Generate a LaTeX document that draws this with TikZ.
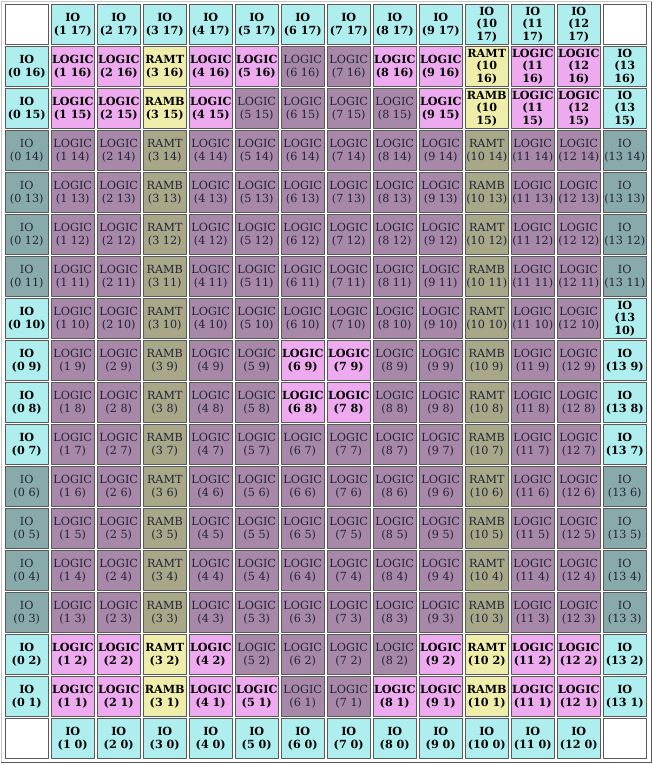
\documentclass[tikz,border=0pt]{standalone}
\usepackage{fontspec}
\setmainfont{DejaVu Serif}
\usepackage{xcolor}
\usepackage{tikz}

\definecolor{ioon}{HTML}{AFEEEE}
\definecolor{iooff}{HTML}{88AAAA}
\definecolor{logicon}{HTML}{EEAAEE}
\definecolor{logicoff}{HTML}{A888A8}
\definecolor{ramon}{HTML}{EEEEAA}
\definecolor{ramoff}{HTML}{A8A888}
\definecolor{dimtext}{HTML}{22223A}
\definecolor{tileedge}{HTML}{5A5A5A}

\tikzset{
  tile/.style={draw=tileedge,line width=0.75pt,minimum width=32.6pt,minimum height=29.4pt,
    inner sep=0pt,align=center},
  tileon/.style={tile,text=black,font=\fontsize{8.4}{9.5}\selectfont\bfseries},
  tileoff/.style={tile,text=dimtext,font=\fontsize{8.4}{9.5}\selectfont},
}

\begin{document}
\begin{tikzpicture}[x=0.75pt,y=-0.75pt,line join=round]
  \useasboundingbox (0,0) rectangle (653,765);
  % table frame
  \draw[line width=0.75pt,gray!45] (1.5,762.5) -- (1.5,1.5) -- (651.5,1.5);
  \draw[line width=0.75pt,gray!70!black] (651.5,1.5) -- (651.5,762.5) -- (1.5,762.5);
  \foreach \cx in {0,...,13}{
    \foreach \cy in {0,...,17}{
      \pgfmathsetmacro\px{26.75+46*\cx}
      \pgfmathsetmacro\py{24.5+42*(17-\cy)}
      \pgfmathtruncatemacro\edge{(\cx==0)||(\cx==13)||(\cy==0)||(\cy==17)}
      \pgfmathtruncatemacro\corner{((\cx==0)||(\cx==13))&&((\cy==0)||(\cy==17))}
      \pgfmathtruncatemacro\band{(\cy==1)||(\cy==2)||(\cy==15)||(\cy==16)}
      \pgfmathtruncatemacro\ram{(\cx==3)||(\cx==10)}
      \ifnum\corner=1
        \node[tile,fill=white] (t-\cx-\cy) at (\px,\py) {};
      \else
        \ifnum\edge=1
          \def\kind{IO}\def\fillon{ioon}\def\filloff{iooff}
          \pgfmathtruncatemacro\on{\band||(\cy==0)||(\cy==17)||((\cy>6)&&(\cy<11))}
        \else\ifnum\ram=1
          \def\fillon{ramon}\def\filloff{ramoff}
          \ifodd\cy \def\kind{RAMB}\else \def\kind{RAMT}\fi
          \let\on\band
        \else
          \def\kind{LOGIC}\def\fillon{logicon}\def\filloff{logicoff}
          % lit logic tiles
          \pgfmathtruncatemacro\rowa{((\cy==16)||(\cy==1))&&((\cx<6)||(\cx>7))}
          \pgfmathtruncatemacro\rowb{((\cy==15)||(\cy==2))&&((\cx<5)||(\cx>8))}
          \pgfmathtruncatemacro\rowc{((\cy==9)||(\cy==8))&&((\cx==6)||(\cx==7))}
          \pgfmathtruncatemacro\on{(\rowa+\rowb+\rowc)>0}
        \fi\fi
        \ifnum\on=1
          \pgfmathtruncatemacro\wide{(\cx>9)&&(\cy>9)}
          \ifnum\wide=1 \def\where{(\cx\\\cy)}\else \def\where{(\cx\ \cy)}\fi
          \node[tileon,fill=\fillon] (t-\cx-\cy) at (\px,\py) {\kind\\\where};
        \else
          \node[tileoff,fill=\filloff] (t-\cx-\cy) at (\px,\py) {\kind\\(\cx\ \cy)};
        \fi
      \fi
    }
  }
\end{tikzpicture}
\end{document}
